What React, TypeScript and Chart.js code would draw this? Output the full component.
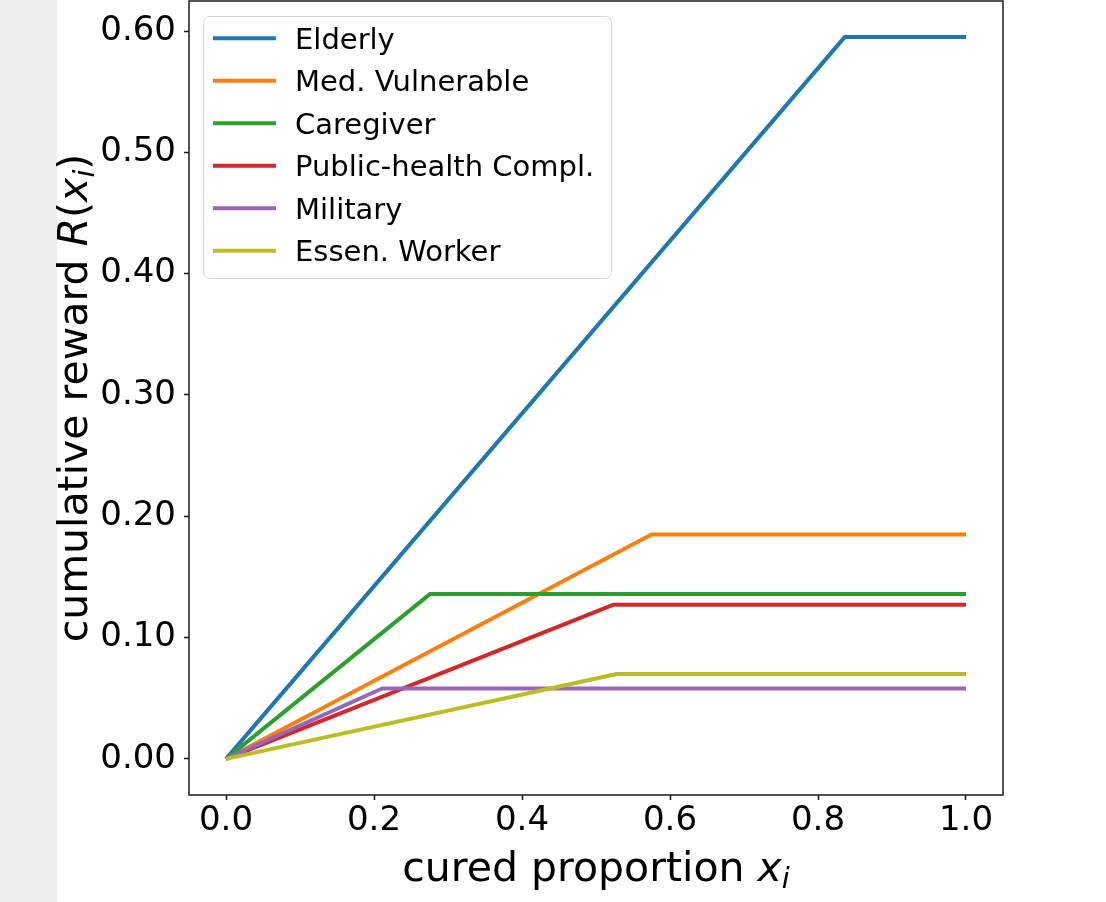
import React, { useEffect, useRef } from "react";
import { Chart, registerables } from "chart.js";

Chart.register(...registerables);

// ---- data ----
const seriesLabels = [
  "Elderly",
  "Med. Vulnerable",
  "Caregiver",
  "Public-health Compl.",
  "Military",
  "Essen. Worker",
];
const seriesColors = ["#1f77b4", "#ff7f0e", "#2ca02c", "#d62728", "#9467bd", "#bcbd22"];

const elderlyX = [0, 0.836, 1.0];
const elderlyY = [0, 0.595, 0.595];
const medVulnX = [0, 0.575, 1.0];
const medVulnY = [0, 0.185, 0.185];
const caregiverX = [0, 0.276, 1.0];
const caregiverY = [0, 0.136, 0.136];
const publicHealthX = [0, 0.523, 1.0];
const publicHealthY = [0, 0.127, 0.127];
const militaryX = [0, 0.211, 1.0];
const militaryY = [0, 0.058, 0.058];
const essenWorkerX = [0, 0.528, 1.0];
const essenWorkerY = [0, 0.07, 0.07];

const seriesX = [elderlyX, medVulnX, caregiverX, publicHealthX, militaryX, essenWorkerX];
const seriesY = [elderlyY, medVulnY, caregiverY, publicHealthY, militaryY, essenWorkerY];

const xTicks = [0, 0.2, 0.4, 0.6, 0.8, 1.0];
const yTicks = [0, 0.1, 0.2, 0.3, 0.4, 0.5, 0.6];

const FONT = '"DejaVu Sans"';

type Seg = { t: string; italic?: boolean; sub?: boolean };
const xLabelSegs: Seg[] = [
  { t: "cured proportion " },
  { t: "x", italic: true },
  { t: "i", italic: true, sub: true },
];
const yLabelSegs: Seg[] = [
  { t: "cumulative reward " },
  { t: "R", italic: true },
  { t: "(" },
  { t: "x", italic: true },
  { t: "i", italic: true, sub: true },
  { t: ")" },
];

function segFont(s: Seg, size: number) {
  const sz = s.sub ? size * 0.7 : size;
  return `${s.italic ? "italic " : ""}${sz}px ${FONT}`;
}

function drawSegs(ctx: CanvasRenderingContext2D, segs: Seg[], size: number) {
  let total = 0;
  const widths: number[] = [];
  for (const s of segs) {
    ctx.font = segFont(s, size);
    const w = ctx.measureText(s.t).width;
    widths.push(w);
    total += w;
  }
  let x = -total / 2;
  ctx.textAlign = "left";
  ctx.textBaseline = "alphabetic";
  segs.forEach((s, i) => {
    ctx.font = segFont(s, size);
    ctx.fillText(s.t, x, s.sub ? size * 0.17 : 0);
    x += widths[i];
  });
}

const overlayPlugin = {
  id: "overlay",
  afterDraw(chart: any) {
    const ctx: CanvasRenderingContext2D = chart.ctx;
    const a = chart.chartArea;
    ctx.save();
    // frame
    ctx.strokeStyle = "#1a1a1a";
    ctx.lineWidth = 1.5;
    ctx.strokeRect(a.left, a.top, a.right - a.left, a.bottom - a.top);

    // legend
    const bx = 203, by = 16, bw = 408, bh = 262;
    ctx.beginPath();
    (ctx as any).roundRect(bx + 0.5, by + 0.5, bw, bh, 6);
    ctx.fillStyle = "rgba(255,255,255,0.8)";
    ctx.fill();
    ctx.strokeStyle = "#d6d6d6";
    ctx.lineWidth = 1;
    ctx.stroke();
    seriesLabels.forEach((lab, i) => {
      const ry = 38.3 + i * 42.5;
      ctx.strokeStyle = seriesColors[i];
      ctx.lineWidth = 4;
      ctx.beginPath();
      ctx.moveTo(213, ry);
      ctx.lineTo(276, ry);
      ctx.stroke();
      ctx.fillStyle = "#000";
      ctx.font = `29px ${FONT}`;
      ctx.textAlign = "left";
      ctx.textBaseline = "alphabetic";
      ctx.fillText(lab, 295, ry + 10.5);
    });

    // axis titles
    ctx.fillStyle = "#000";
    ctx.save();
    ctx.translate((a.left + a.right) / 2, 881);
    drawSegs(ctx, xLabelSegs, 41);
    ctx.restore();
    ctx.save();
    ctx.translate(87, (a.top + a.bottom) / 2);
    ctx.rotate(-Math.PI / 2);
    drawSegs(ctx, yLabelSegs, 41);
    ctx.restore();

    ctx.restore();
  },
};

export default function App() {
  const ref = useRef<HTMLCanvasElement | null>(null);
  useEffect(() => {
    if (!ref.current) return;
    const n = seriesLabels.length;
    const chart = new Chart(ref.current, {
      type: "line",
      data: {
        datasets: seriesLabels.map((label, i) => ({
          label,
          data: seriesX[i].map((x, j) => ({ x, y: seriesY[i][j] })),
          borderColor: seriesColors[i],
          backgroundColor: seriesColors[i],
          borderWidth: 4,
          pointRadius: 0,
          tension: 0,
          fill: false,
          borderJoinStyle: "round" as const,
          order: n - 1 - i,
        })),
      },
      options: {
        animation: false,
        responsive: false,
        events: [],
        layout: { padding: { left: 0, top: 1, right: 103, bottom: 0 } },
        plugins: {
          legend: { display: false },
          tooltip: { enabled: false },
          title: { display: false },
        },
        scales: {
          x: {
            type: "linear",
            min: -0.05,
            max: 1.05,
            afterBuildTicks: (scale: any) => {
              scale.ticks = xTicks.map((v) => ({ value: v }));
            },
            afterFit: (scale: any) => {
              scale.height = 107;
              scale.paddingLeft = 0;
              scale.paddingRight = 0;
            },
            border: { display: false },
            grid: {
              drawOnChartArea: false,
              drawTicks: true,
              tickLength: 5,
              tickColor: "#1a1a1a",
              tickWidth: 1.5,
            },
            ticks: {
              autoSkip: false,
              maxRotation: 0,
              padding: 1,
              color: "#000",
              font: { family: FONT, size: 34 },
              callback: (v: any) => Number(v).toFixed(1),
            },
          },
          y: {
            type: "linear",
            min: -0.02975,
            max: 0.62475,
            afterBuildTicks: (scale: any) => {
              scale.ticks = yTicks.map((v) => ({ value: v }));
            },
            afterFit: (scale: any) => {
              scale.width = 189;
              scale.paddingTop = 0;
              scale.paddingBottom = 0;
            },
            border: { display: false },
            grid: {
              drawOnChartArea: false,
              drawTicks: true,
              tickLength: 5,
              tickColor: "#1a1a1a",
              tickWidth: 1.5,
            },
            ticks: {
              autoSkip: false,
              padding: 8,
              color: "#000",
              font: { family: FONT, size: 34 },
              callback: (v: any) => Number(v).toFixed(2),
            },
          },
        },
      },
      plugins: [overlayPlugin],
    });
    return () => chart.destroy();
  }, []);

  return (
    <div style={{ position: "fixed", left: 0, top: 0, width: 1106, height: 902, background: "#fff" }}>
      <div style={{ position: "absolute", left: 0, top: 0, width: 57, height: 902, background: "#eeeeee" }} />
      <canvas
        ref={ref}
        width={1106}
        height={902}
        style={{ position: "absolute", left: 0, top: 0, width: 1106, height: 902 }}
      />
    </div>
  );
}
